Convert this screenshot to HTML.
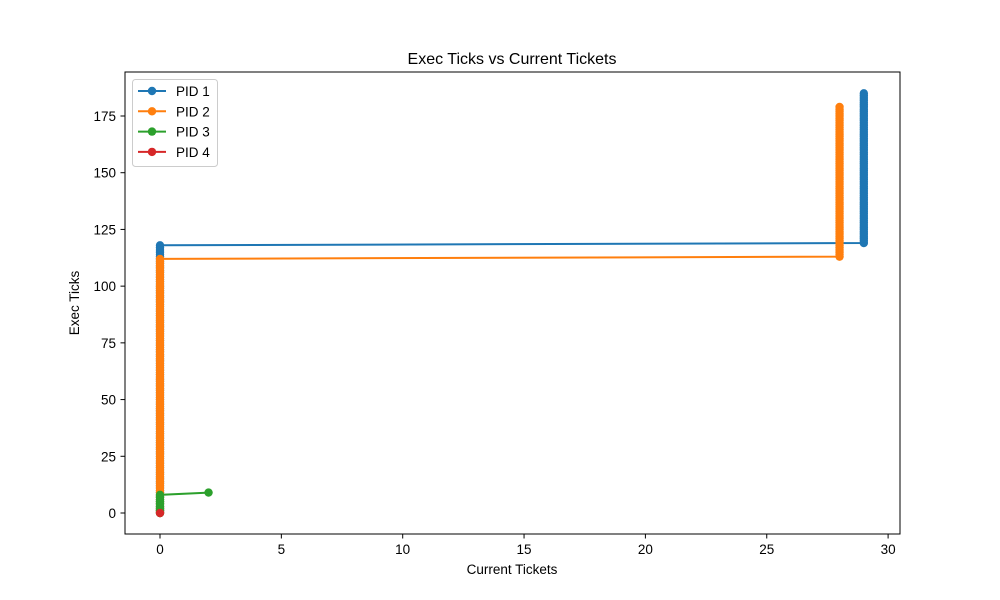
<!DOCTYPE html>
<html><head><meta charset="utf-8"><style>
html,body{margin:0;padding:0;background:#fff;}
svg{display:block;font-family:"Liberation Sans","DejaVu Sans",sans-serif;}
</style></head><body>
<svg id="chart" width="1000" height="600" xmlns="http://www.w3.org/2000/svg">
<rect x="0" y="0" width="1000" height="600" fill="#fff"/>
<g id="plot"></g>
<rect x="125" y="72" width="775" height="462" fill="none" stroke="#000" stroke-width="1"/>
<g id="axes"></g>
<text x="512" y="64" text-anchor="middle" font-size="16">Exec Ticks vs Current Tickets</text>
<text x="512" y="574" text-anchor="middle" font-size="13.5">Current Tickets</text>
<text x="0" y="0" transform="translate(79,303) rotate(-90)" text-anchor="middle" font-size="13.5">Exec Ticks</text>
<g id="legend"></g>
</svg>
<script>
const seriesNames = ["PID 1","PID 2","PID 3","PID 4"];
const seriesColors = ["#1f77b4","#ff7f0e","#2ca02c","#d62728"];
// each series: segments of [tickets, firstTick, lastTick] (consecutive exec ticks at that ticket count)
const pid1Tickets = [0, 29];
const pid1Start = [0, 119];
const pid1End = [118, 185];
const pid2Tickets = [0, 28];
const pid2Start = [0, 113];
const pid2End = [112, 179];
const pid3Tickets = [0, 2];
const pid3Start = [0, 9];
const pid3End = [8, 9];
const pid4Tickets = [0];
const pid4Start = [0];
const pid4End = [0];
const xTicks = [0,5,10,15,20,25,30];
const yTicks = [0,25,50,75,100,125,150,175];

const NS="http://www.w3.org/2000/svg";
const x = v => 160 + v*24.27;
const y = v => 513 - v*2.2686;
function mk(tag, attrs, parent){const e=document.createElementNS(NS,tag);for(const k in attrs)e.setAttribute(k,attrs[k]);parent.appendChild(e);return e;}
const plot=document.getElementById('plot'), axes=document.getElementById('axes'), legend=document.getElementById('legend');
const all=[[pid1Tickets,pid1Start,pid1End],[pid2Tickets,pid2Start,pid2End],[pid3Tickets,pid3Start,pid3End],[pid4Tickets,pid4Start,pid4End]];
all.forEach((s,i)=>{
  const pts=[];
  s[0].forEach((t,j)=>{for(let v=s[1][j];v<=s[2][j];v++)pts.push([t,v]);});
  const line=mk('polyline',{points:pts.map(p=>x(p[0])+','+y(p[1])).join(' '),fill:'none',stroke:seriesColors[i],'stroke-width':2},plot);
  
  
  pts.forEach(p=>{
    const c=mk('circle',{cx:x(p[0]),cy:y(p[1]),r:4.2,fill:seriesColors[i]},plot);
    
    
  });
});
xTicks.forEach(t=>{
  const l=mk('line',{x1:x(t),x2:x(t),y1:534,y2:538.5,stroke:'#000'},axes);
  
  
  const tx=mk('text',{x:x(t),y:554,'text-anchor':'middle','font-size':13.5},axes);
  tx.textContent=t;
  
  
});
yTicks.forEach(t=>{
  const l=mk('line',{x1:120.5,x2:125,y1:y(t),y2:y(t),stroke:'#000'},axes);
  
  
  const tx=mk('text',{x:116,y:y(t)+5,'text-anchor':'end','font-size':13.5},axes);
  tx.textContent=t;
  
  
});
mk('rect',{x:132.5,y:79.5,width:85,height:87,rx:3,fill:'#fff',stroke:'#ccc'},legend);
seriesNames.forEach((n,i)=>{
  const yy=91+i*20.3;
  const g=mk('g',{},legend);
  
  
  mk('line',{x1:138,x2:166,y1:yy,y2:yy,stroke:seriesColors[i],'stroke-width':2},g);
  mk('circle',{cx:152,cy:yy,r:4.2,fill:seriesColors[i]},g);
  const t=mk('text',{x:176,y:yy+5,'font-size':13.5},g);
  t.textContent=n;
});
</script>
</body></html>
